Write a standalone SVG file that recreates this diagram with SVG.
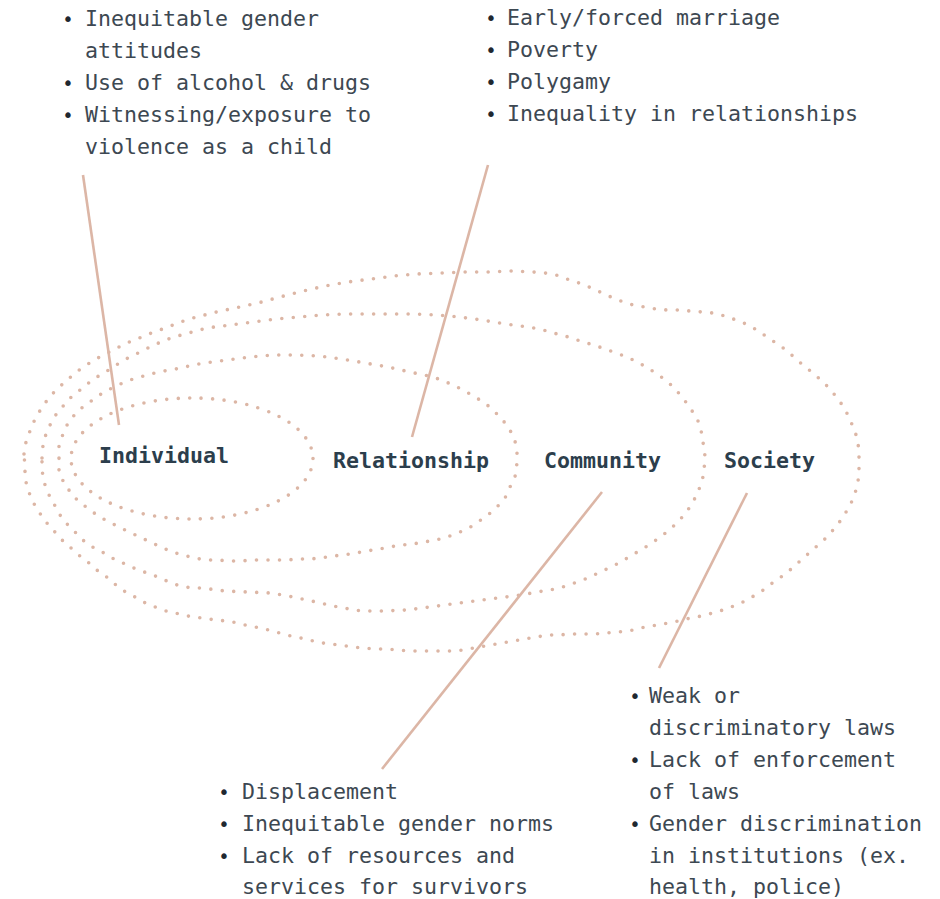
<svg xmlns="http://www.w3.org/2000/svg" width="940" height="899" viewBox="0 0 940 899">
<style>
.ring{fill:none;stroke:#dcb6a5;stroke-width:3.6;stroke-linecap:round;stroke-dasharray:0 11.5}
.conn{stroke:#dcb6a6;stroke-width:2.6;fill:none}
.item{font-family:"DejaVu Sans Mono","Liberation Mono",monospace;font-size:21.6px;fill:#3d4852}
.bul{font-family:"DejaVu Sans Mono","Liberation Mono",monospace;font-size:19px;fill:#1f2830;text-anchor:middle}
.lbl{font-family:"DejaVu Sans Mono","Liberation Mono",monospace;font-size:21.6px;font-weight:bold;fill:#2c3e4c}
</style>
<rect width="940" height="899" fill="#ffffff"/>
<g id="society">
<path class="ring" d="M24,454 L26,442 L30,431 L35,419 L41,409 L48,399 L56,390 L65,382 L74,374 L83,367 L93,361 L103,355 L114,350 L124,344 L135,340 L146,335 L157,331 L168,327 L178,323 L189,319 L201,316 L212,313 L235,308 L258,303 L280,297 L303,291 L325,286 L348,282 L371,279 L394,276 L417,274 L441,273 L464,272 L487,272 L510,271 L533,272 L545,273 L556,275 L567,279 L579,283 L589,287 L600,292 L611,297 L621,301 L633,305 L644,307 L656,309 L667,310 L679,310 L690,311 L702,312 L713,313 L725,316 L736,320 L746,324 L757,330 L767,337 L776,343 L786,350 L795,358 L804,366 L813,373 L822,381 L830,389 L838,399 L845,409 L850,420 L855,431 L858,443 L859,453 L859,463 L859,475 L857,487 L853,499 L848,509 L841,520 L834,529 L826,538 L817,546 L808,554 L799,562 L790,570 L781,577 L771,584 L762,591 L752,597 L741,603 L731,607 L720,611 L709,614 L697,617 L686,619 L674,622 L663,624 L652,626 L640,628 L629,631 L617,632 L606,633 L594,634 L582,634 L571,634 L559,635 L548,635 L525,639 L502,643 L491,645 L479,647 L468,649 L456,651 L445,651 L433,651 L421,651 L410,651 L398,650 L387,649 L375,649 L363,648 L352,647 L340,645 L329,644 L317,642 L306,639 L295,637 L283,634 L272,631 L261,628 L249,626 L238,623 L227,621 L215,620 L203,618 L192,617 L180,614 L169,612 L158,608 L147,604 L137,598 L127,593 L117,586 L108,578 L98,571 L89,563 L80,556 L71,548 L62,540 L54,531 L46,522 L39,512 L33,502 L28,490 L25,478 L25,467 Z"/>
<text class="lbl" x="724" y="468">Society</text>
</g>
<g id="community">
<path class="ring" d="M42,458 L43,445 L46,434 L51,423 L57,413 L65,404 L73,395 L83,388 L92,380 L102,374 L112,368 L122,361 L132,356 L142,351 L152,346 L163,341 L174,337 L185,334 L196,331 L207,328 L230,325 L253,322 L276,319 L299,317 L321,315 L344,314 L367,314 L390,314 L413,314 L436,315 L459,317 L482,320 L505,324 L528,327 L540,329 L550,332 L561,335 L572,338 L583,342 L594,345 L605,349 L616,353 L627,357 L637,362 L648,368 L657,374 L667,381 L675,389 L683,398 L690,408 L697,418 L701,430 L703,442 L705,456 L704,471 L702,482 L697,494 L692,504 L685,514 L677,523 L668,531 L659,538 L649,545 L639,551 L629,557 L619,563 L609,568 L598,573 L588,578 L577,582 L566,586 L555,589 L543,591 L521,595 L498,598 L475,601 L452,604 L430,607 L407,610 L384,611 L361,611 L338,607 L316,602 L293,597 L271,593 L248,592 L225,591 L202,588 L192,588 L180,586 L169,582 L158,577 L147,573 L136,569 L125,564 L114,559 L104,553 L94,548 L84,541 L76,533 L67,524 L60,515 L54,504 L48,493 L44,482 L42,470 Z"/>
<text class="lbl" x="544" y="468">Community</text>
</g>
<g id="relationship">
<path class="ring" d="M59,458 L59,446 L63,434 L68,423 L76,413 L84,406 L94,399 L104,392 L114,387 L125,382 L136,378 L148,375 L158,372 L170,370 L181,368 L193,365 L204,363 L227,360 L250,357 L273,355 L296,355 L319,356 L342,359 L365,363 L388,367 L410,372 L433,377 L444,381 L455,386 L465,391 L475,397 L485,403 L494,411 L502,419 L510,430 L515,441 L517,452 L517,463 L515,477 L510,487 L505,498 L497,507 L488,515 L478,522 L469,528 L458,533 L447,537 L436,540 L424,542 L413,544 L401,545 L390,547 L379,549 L367,551 L356,553 L344,555 L333,556 L321,558 L310,559 L298,559 L287,560 L275,560 L264,560 L252,560 L241,561 L229,561 L217,560 L206,560 L194,558 L183,555 L172,552 L161,547 L150,542 L140,537 L129,532 L119,527 L109,522 L98,516 L89,509 L79,502 L71,493 L64,483 L59,472 Z"/>
<text class="lbl" x="333" y="468">Relationship</text>
</g>
<g id="individual">
<ellipse class="ring" cx="192" cy="458.5" rx="121" ry="60.5"/>
<text class="lbl" x="99" y="463">Individual</text>
</g>
<g id="connectors">
<line class="conn" x1="83" y1="175" x2="119" y2="425"/>
<line class="conn" x1="488" y1="165" x2="412" y2="437"/>
<line class="conn" x1="602" y1="492" x2="382" y2="769"/>
<line class="conn" x1="747" y1="493" x2="659" y2="668"/>
</g>
<g id="individual-factors">
<text class="bul" x="68" y="26">•</text><text class="item" x="85" y="26">Inequitable gender</text>
<text class="item" x="85" y="58">attitudes</text>
<text class="bul" x="68" y="90">•</text><text class="item" x="85" y="90">Use of alcohol &amp; drugs</text>
<text class="bul" x="68" y="122">•</text><text class="item" x="85" y="122">Witnessing/exposure to</text>
<text class="item" x="85" y="154">violence as a child</text>
</g>
<g id="relationship-factors">
<text class="bul" x="491" y="25">•</text><text class="item" x="507" y="25">Early/forced marriage</text>
<text class="bul" x="491" y="57">•</text><text class="item" x="507" y="57">Poverty</text>
<text class="bul" x="491" y="89">•</text><text class="item" x="507" y="89">Polygamy</text>
<text class="bul" x="491" y="121">•</text><text class="item" x="507" y="121">Inequality in relationships</text>
</g>
<g id="community-factors">
<text class="bul" x="224" y="799">•</text><text class="item" x="242" y="799">Displacement</text>
<text class="bul" x="224" y="831">•</text><text class="item" x="242" y="831">Inequitable gender norms</text>
<text class="bul" x="224" y="863">•</text><text class="item" x="242" y="863">Lack of resources and</text>
<text class="item" x="242" y="894">services for survivors</text>
</g>
<g id="society-factors">
<text class="bul" x="635" y="703">•</text><text class="item" x="649" y="703">Weak or</text>
<text class="item" x="649" y="735">discriminatory laws</text>
<text class="bul" x="635" y="767">•</text><text class="item" x="649" y="767">Lack of enforcement</text>
<text class="item" x="649" y="799">of laws</text>
<text class="bul" x="635" y="831">•</text><text class="item" x="649" y="831">Gender discrimination</text>
<text class="item" x="649" y="863">in institutions (ex.</text>
<text class="item" x="649" y="894">health, police)</text>
</g>
</svg>
